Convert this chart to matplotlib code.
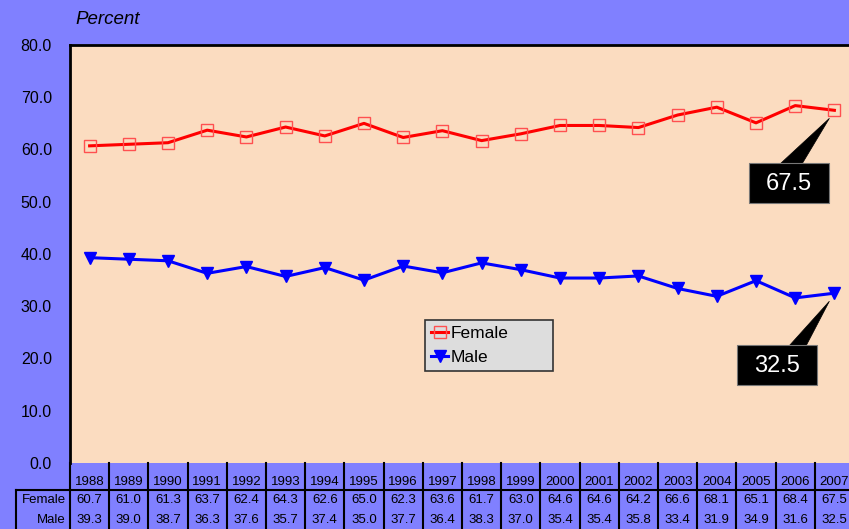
import matplotlib.pyplot as plt
from matplotlib.lines import Line2D
from matplotlib.patches import Rectangle, Polygon
from matplotlib.transforms import blended_transform_factory

plt.rcParams['font.family'] = ['Liberation Sans', 'DejaVu Sans']

years = [str(y) for y in range(1988, 2008)]
female = [60.7, 61.0, 61.3, 63.7, 62.4, 64.3, 62.6, 65.0, 62.3, 63.6,
          61.7, 63.0, 64.6, 64.6, 64.2, 66.6, 68.1, 65.1, 68.4, 67.5]
male = [39.3, 39.0, 38.7, 36.3, 37.6, 35.7, 37.4, 35.0, 37.7, 36.4,
        38.3, 37.0, 35.4, 35.4, 35.8, 33.4, 31.9, 34.9, 31.6, 32.5]

W, H = 849, 529
fig = plt.figure(figsize=(W / 100, H / 100), dpi=100, facecolor='#8080FF')

# plot area in pixels: left 70, top 45, bottom 463, right just past the edge
L, T, B, R = 70, 45, 463, 854
ax = fig.add_axes([L / W, 1 - B / H, (R - L) / W, (B - T) / H])
ax.set_facecolor('#FBDCC0')

x = list(range(len(years)))
ax.plot(x, female, color='red', lw=2.2, marker='s', ms=8.5, mfc='none',
        mec='#FF5050', mew=1.0, label='Female', clip_on=False)
ax.plot(x, male, color='blue', lw=2.2, marker='v', ms=8.5, mfc='blue',
        mec='blue', label='Male', clip_on=False)

ax.set_xlim(-0.5, len(years) - 0.5)
ax.set_ylim(0, 80)
ax.set_yticks(range(0, 81, 10))
ax.set_yticklabels([f'{v:.1f}' for v in range(0, 81, 10)], fontsize=11.5)
ax.tick_params(axis='y', length=0, pad=13)
ax.set_xticks([])
for s in ['left', 'top']:
    ax.spines[s].set_linewidth(2)
ax.spines['right'].set_visible(False)
ax.spines['bottom'].set_visible(False)

fig.text(75 / W, 1 - 20 / H, 'Percent', fontsize=13.5, style='italic',
         va='center', ha='left')

lx0 = (425 - L) / (R - L)
lx1 = (553 - L) / (R - L)
ly1 = (B - 320) / (B - T)
ly0 = (B - 375) / (B - T)
leg = ax.legend(loc='upper left', bbox_to_anchor=(lx0, ly0, lx1 - lx0, ly1 - ly0),
                mode='expand', borderaxespad=0, fancybox=False, edgecolor='#333333',
                facecolor='#DDDDDD', framealpha=1, fontsize=12.5,
                handlelength=1.0, handletextpad=0.15, labelspacing=0.5,
                borderpad=0.35)
leg.get_frame().set_linewidth(1.2)

# callouts for last values (box and wedge pointing at the last point)
def px2fig(px, py):
    return px / W, 1 - py / H

for val, (bx0, by0), (wb0, wb1) in [(female[-1], (749, 163), (780, 802)),
                                    (male[-1], (737, 345), (789, 806))]:
    dx, dy = ax.transData.transform((x[-1], val))
    tip = px2fig(dx - 5, H - dy + 8)
    fig.add_artist(Polygon([px2fig(wb0, by0 + 1), px2fig(wb1, by0 + 1), tip],
                           closed=True, transform=fig.transFigure,
                           fc='black', ec='black', lw=0.5))
    fx, fyy = px2fig(bx0, by0 + 40)
    fig.add_artist(Rectangle((fx, fyy), 80 / W, 40 / H, transform=fig.transFigure,
                             fc='black', ec='#777777', lw=0.8))
    cx, cy = px2fig(bx0 + 40, by0 + 21)
    fig.text(cx, cy, f'{val:.1f}', ha='center', va='center', color='white',
             fontsize=17)

# data table below the plot
tr = blended_transform_factory(ax.transData, fig.transFigure)
fy = lambda px: 1 - px / H
lw = 1.5
for i in range(len(years) + 1):
    xb = i - 0.5
    fig.add_artist(Line2D([xb, xb], [fy(B), fy(H + 2)], transform=tr,
                          color='black', lw=lw, clip_on=False))
fig.add_artist(Line2D([16 / W, 1.0], [fy(490), fy(490)], transform=fig.transFigure,
                      color='black', lw=lw))
fig.add_artist(Line2D([16 / W, 16 / W], [fy(490), fy(H + 2)], transform=fig.transFigure,
                      color='black', lw=lw))

for i, yr in enumerate(years):
    ax.text(i, fy(482), yr, transform=tr, ha='center', va='center', fontsize=9.5)
    ax.text(i, fy(500), f'{female[i]:.1f}', transform=tr, ha='center', va='center', fontsize=9.5)
    ax.text(i, fy(520), f'{male[i]:.1f}', transform=tr, ha='center', va='center', fontsize=9.5)
fig.text(66 / W, fy(500), 'Female', ha='right', va='center', fontsize=9.5)
fig.text(66 / W, fy(520), 'Male', ha='right', va='center', fontsize=9.5)

fig.savefig('out.png', dpi=100, facecolor=fig.get_facecolor())
